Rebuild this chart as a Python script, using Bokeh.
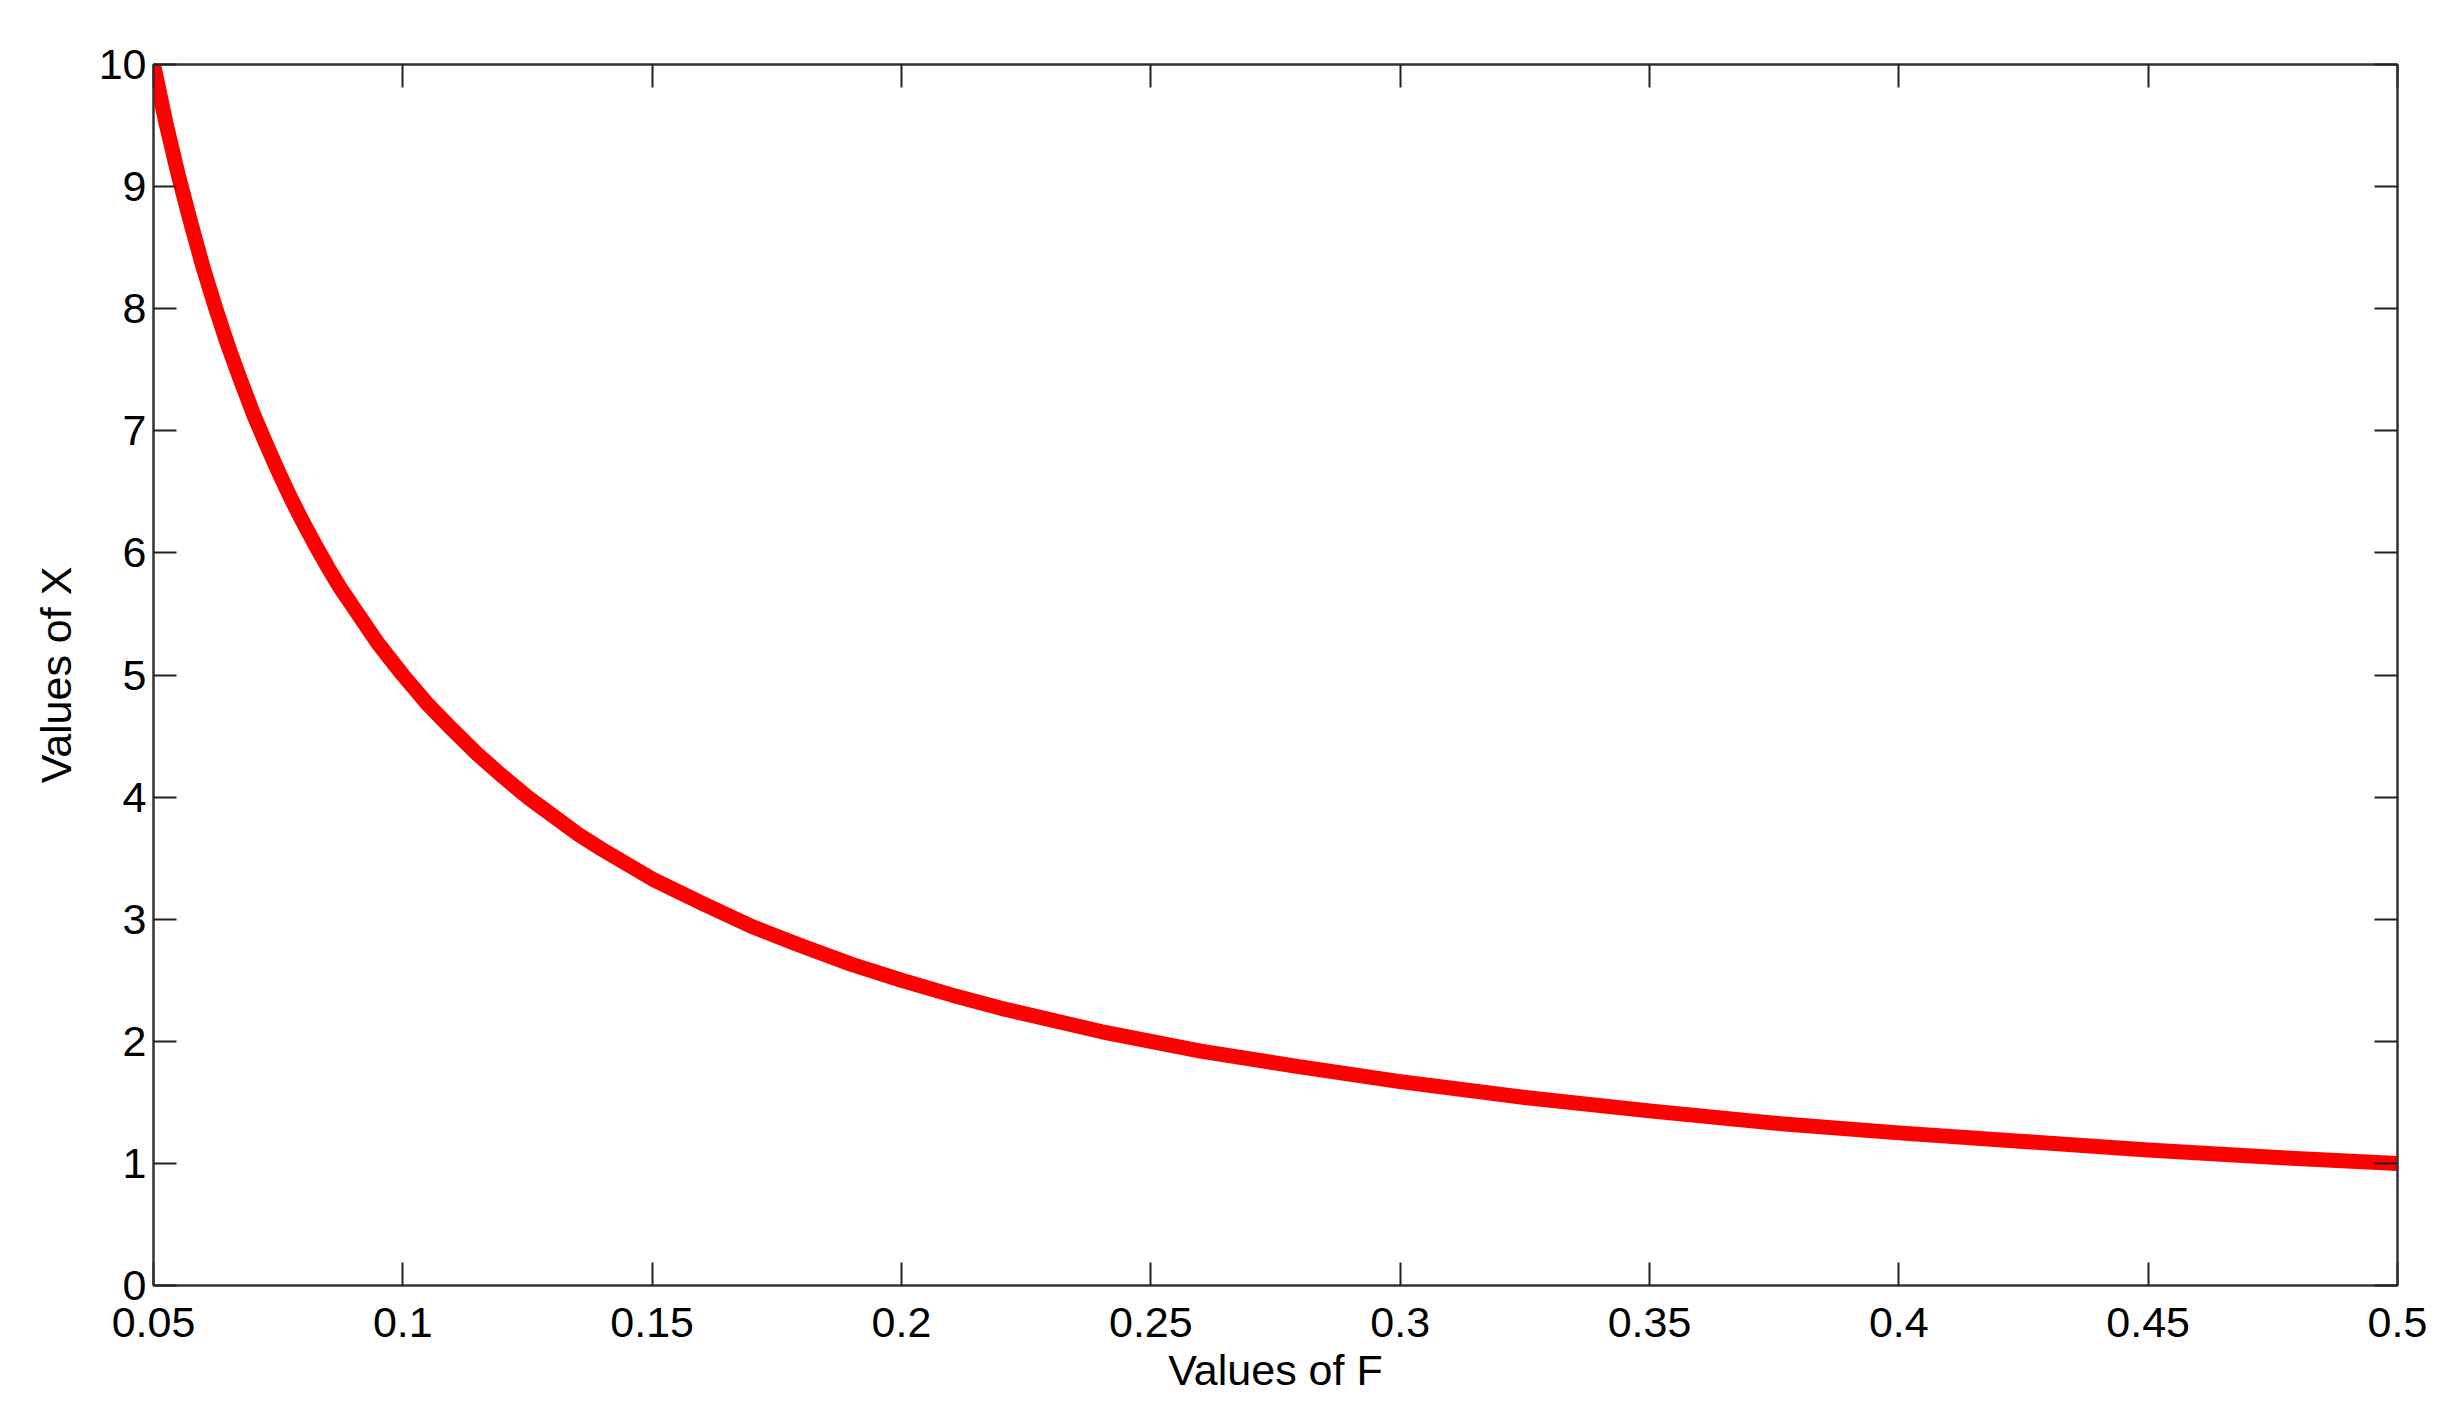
from bokeh.plotting import figure
from bokeh.models import Range1d, LinearAxis, FixedTicker
from bokeh.embed import file_html
from bokeh.resources import INLINE

# Values
f_values = [0.05, 0.0525, 0.055, 0.0575, 0.06, 0.0625, 0.065, 0.0675, 0.07, 0.0725,
            0.075, 0.0775, 0.08, 0.0825, 0.085, 0.0875, 0.09, 0.095, 0.1, 0.105,
            0.11, 0.115, 0.12, 0.125, 0.13, 0.135, 0.14, 0.15, 0.16, 0.17,
            0.18, 0.19, 0.2, 0.21, 0.22, 0.24, 0.26, 0.28, 0.3, 0.325,
            0.35, 0.375, 0.4, 0.425, 0.45, 0.475, 0.5]
x_values = [10.0, 9.52, 9.09, 8.70, 8.33, 8.0, 7.69, 7.41, 7.14, 6.90,
            6.67, 6.45, 6.25, 6.06, 5.88, 5.71, 5.56, 5.26, 5.0, 4.76,
            4.55, 4.35, 4.17, 4.0, 3.85, 3.70, 3.57, 3.33, 3.13, 2.94,
            2.78, 2.63, 2.5, 2.38, 2.27, 2.08, 1.92, 1.79, 1.67, 1.54,
            1.43, 1.33, 1.25, 1.18, 1.11, 1.05, 1.0]

xticks = [0.05, 0.1, 0.15, 0.2, 0.25, 0.3, 0.35, 0.4, 0.45, 0.5]
xtick_labels = ["0.05", "0.1", "0.15", "0.2", "0.25", "0.3", "0.35", "0.4", "0.45", "0.5"]
yticks = [0, 1, 2, 3, 4, 5, 6, 7, 8, 9, 10]
ytick_labels = ["0", "1", "2", "3", "4", "5", "6", "7", "8", "9", "10"]

FONT = "Liberation Sans"
FS = "43px"

p = figure(output_backend="svg", toolbar_location=None,
           frame_width=2244, frame_height=1221,
           x_range=Range1d(0.05, 0.5), y_range=Range1d(0, 10),
           min_border_left=153, min_border_right=48,
           min_border_top=64, min_border_bottom=128)

p.background_fill_color = "white"
p.border_fill_color = "white"
p.outline_line_color = "#333333"
p.outline_line_width = 2
p.xgrid.visible = False
p.ygrid.visible = False

p.line(f_values, x_values, line_color="#FF0000", line_width=15, line_join="round")

def style(ax, ticks, labels, show_labels=True):
    ax.ticker = FixedTicker(ticks=ticks)
    if show_labels:
        ax.major_label_overrides = {t: l for t, l in zip(ticks, labels)}
    else:
        ax.major_label_overrides = {t: "" for t in ticks}
        ax.major_label_standoff = 0
    ax.major_tick_in = 23
    ax.major_tick_out = 0
    ax.minor_tick_in = 0
    ax.minor_tick_out = 0
    ax.major_tick_line_color = "#222222"
    ax.major_tick_line_width = 2
    ax.axis_line_color = "#333333"
    ax.axis_line_width = 2
    ax.major_label_text_font = FONT
    ax.major_label_text_color = "black"
    ax.major_label_text_font_size = FS

xa = p.xaxis[0]
ya = p.yaxis[0]
style(xa, xticks, xtick_labels)
style(ya, yticks, ytick_labels)
xa.major_label_standoff = 22
ya.major_label_standoff = 7
xa.axis_label = "Values of F"
ya.axis_label = "Values of X"
for ax in (xa, ya):
    ax.axis_label_text_font = FONT
    ax.axis_label_text_font_size = FS
    ax.axis_label_text_font_style = "normal"
    ax.axis_label_text_color = "black"
xa.axis_label_standoff = 6
ya.axis_label_standoff = 16

top = LinearAxis()
style(top, xticks, xtick_labels, show_labels=False)
p.add_layout(top, "above")
right = LinearAxis()
style(right, yticks, ytick_labels, show_labels=False)
p.add_layout(right, "right")

open("out.html", "w").write(file_html(p, INLINE))
